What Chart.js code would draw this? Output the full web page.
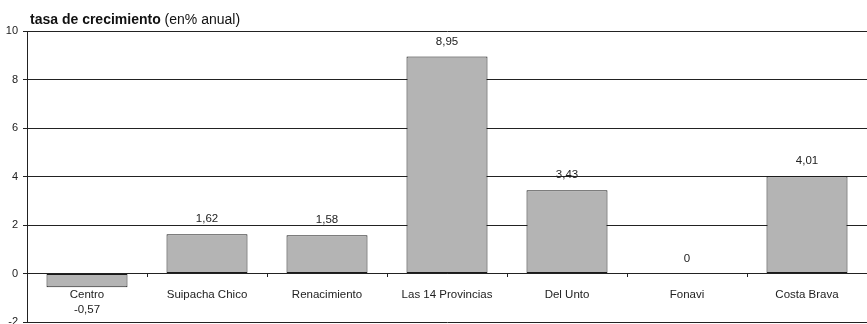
<!DOCTYPE html>
<html>
<head>
<meta charset="utf-8">
<script src="https://cdn.jsdelivr.net/npm/chart.js@4.4.0/dist/chart.umd.min.js"></script>
<style>
  html, body { margin: 0; padding: 0; background: #fff; }
  #wrap { width: 867px; height: 324px; position: relative; }
</style>
</head>
<body>
<div id="wrap"><canvas id="growthChart"></canvas></div>
<script>
const categories = ['Centro', 'Suipacha Chico', 'Renacimiento', 'Las 14 Provincias', 'Del Unto', 'Fonavi', 'Costa Brava'];
const growthRates = [-0.57, 1.62, 1.58, 8.95, 3.43, 0, 4.01];
const yMin = -2;
const yMax = 10;
const yStep = 2;

const fontFamily = '"Liberation Sans", Arial, sans-serif';

function fmt(v) {
    return v === 0 ? '0' : v.toFixed(2).replace('.', ',');
}

// title with bold + normal parts
const titlePlugin = {
    id: 'titleText',
    afterDraw(chart) {
        const c = chart.ctx;
        c.save();
        c.fillStyle = '#111';
        c.textBaseline = 'alphabetic';
        c.font = 'bold 14px ' + fontFamily;
        const part1 = 'tasa de crecimiento ';
        c.fillText(part1, 30, 24);
        const w = c.measureText(part1).width;
        c.font = '14px ' + fontFamily;
        c.fillText('(en% anual)', 30 + w, 24);
        c.restore();
    }
};

// value labels above bars (below the category name when negative)
const valueLabels = {
    id: 'valueLabels',
    afterDatasetsDraw(chart) {
        const c = chart.ctx;
        const meta = chart.getDatasetMeta(0);
        c.save();
        c.font = '11.5px ' + fontFamily;
        c.fillStyle = '#222';
        c.textAlign = 'center';
        c.textBaseline = 'middle';
        meta.data.forEach((bar, i) => {
            const v = growthRates[i];
            if (v < 0) {
                c.fillText(fmt(v), bar.x, 310);
            } else {
                c.fillText(fmt(v), bar.x, bar.y - 15);
            }
        });
        c.restore();
    }
};

const ctx = document.getElementById('growthChart').getContext('2d');
const growthChart = new Chart(ctx, {
    type: 'bar',
    data: {
        labels: categories,
        datasets: [{
            data: growthRates,
            backgroundColor: '#b4b4b4',
            borderColor: '#1a1a1a',
            borderWidth: 1,
            borderSkipped: false,
            categoryPercentage: 1,
            barPercentage: 0.675
        }]
    },
    options: {
        responsive: true,
        maintainAspectRatio: false,
        animation: false,
        layout: { padding: { top: 31, bottom: 2, left: 0, right: 0 } },
        plugins: {
            legend: { display: false },
            tooltip: { enabled: false }
        },
        scales: {
            x: {
                position: { y: 0 },
                afterFit(scale) { scale.height = 0; scale.paddingLeft = 0; scale.paddingRight = 0; },
                grid: {
                    drawOnChartArea: false,
                    drawTicks: true,
                    tickLength: 3,
                    color: '#222'
                },
                border: { display: true, color: '#222', width: 1 },
                ticks: {
                    color: '#222',
                    padding: 11,
                    font: { family: fontFamily, size: 11.5 }
                }
            },
            y: {
                min: yMin,
                max: yMax,
                afterFit(scale) {
                    scale.width = 27;
                    scale.paddingTop = 0;
                    scale.paddingBottom = 0;
                },
                grid: {
                    color: '#222',
                    lineWidth: 1,
                    tickLength: 4
                },
                border: { display: true, color: '#222', width: 1 },
                ticks: {
                    stepSize: yStep,
                    color: '#222',
                    padding: 5,
                    font: { family: fontFamily, size: 11 }
                }
            }
        }
    },
    plugins: [titlePlugin, valueLabels]
});
</script>
</body>
</html>
